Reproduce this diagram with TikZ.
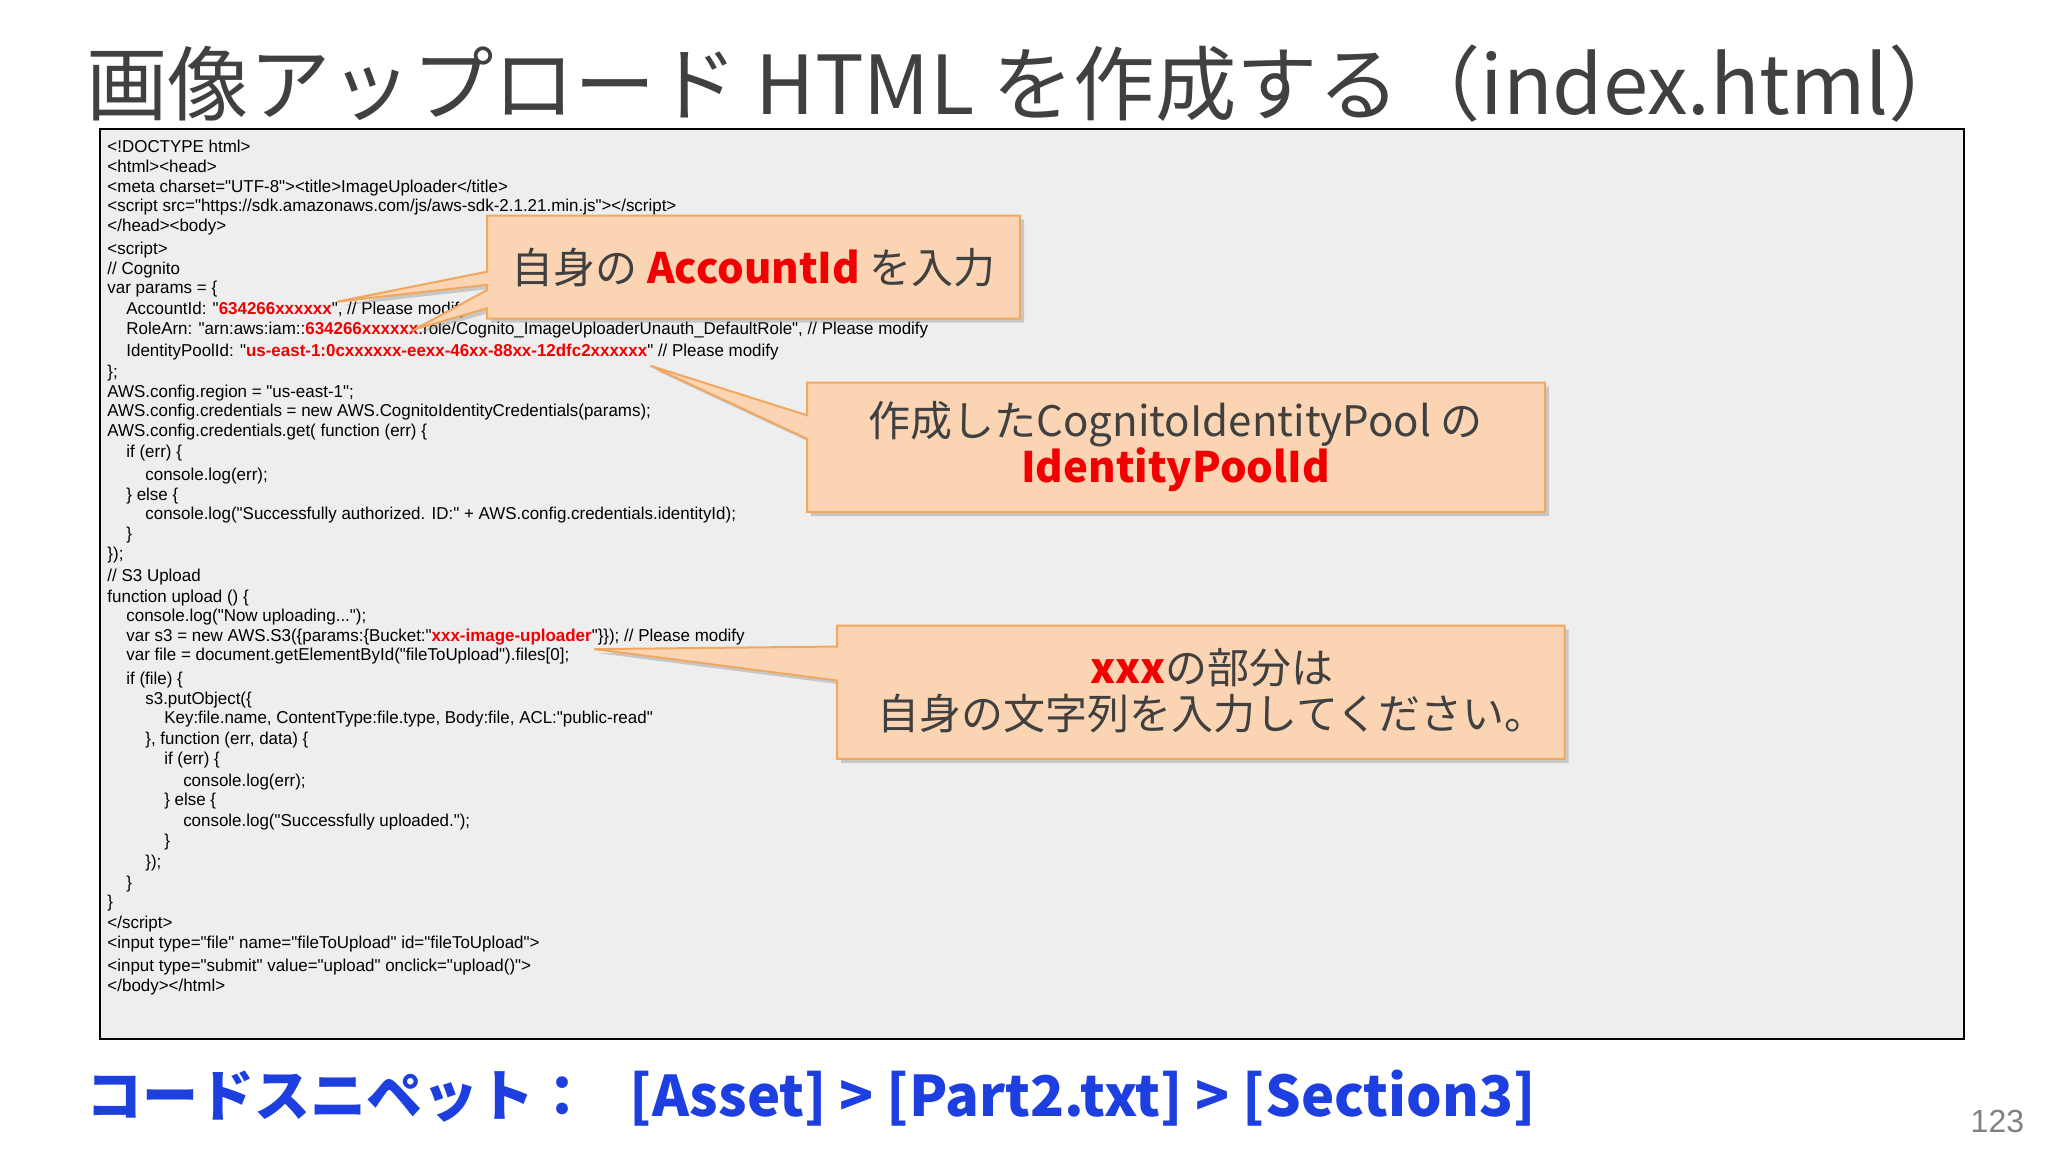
\documentclass[tikz,border=0pt]{standalone}
\usepackage{fontspec}
\setmainfont{Liberation Sans}
\newfontfamily\codefont{Liberation Sans}
\newfontfamily\jp{Noto Sans CJK JP}
\usetikzlibrary{shadows}
\definecolor{codebg}{HTML}{EEEEEF}
\definecolor{callfill}{HTML}{FBD5B3}
\definecolor{calldraw}{HTML}{F0A860}
\definecolor{titlegray}{HTML}{404040}
\definecolor{snipblue}{HTML}{1E3FE0}
\definecolor{codered}{HTML}{F00000}
\tikzset{
  codeline/.style={anchor=base west,inner sep=0pt,font=\codefont\fontsize{8.6}{10}\selectfont,xscale=0.985,transform shape},
  callout/.style={fill=callfill,draw=calldraw,line width=1pt,drop shadow={shadow xshift=2pt,shadow yshift=-2pt,opacity=0.35}},
  calltext/.style={font=\jp\fontsize{21}{27}\selectfont,text=titlegray,align=center},
}
\newcommand{\rd}[1]{\textcolor{codered}{\textbf{#1}}}
\begin{document}
\begin{tikzpicture}[x=0.6531pt,y=-0.6531pt]
\useasboundingbox (0,0) rectangle (1568,882);
\fill[white] (0,0) rectangle (1568,882);
\node[anchor=base west,inner sep=0pt,font=\jp\fontsize{40.7}{46}\selectfont,text=titlegray] (title) at (66,88) {画像アップロード HTML を作成する（index.html）};
\node[draw=black,fill=codebg,line width=0.8pt,minimum width=1427*0.6531pt,minimum height=697*0.6531pt,anchor=north west,inner sep=0pt] (code) at (76,98) {};
\def\ind{14.5}
\foreach \y/\l/\t [count=\i] in {
113/0/{<!DOCTYPE html>},
128/0/{<html><head>},
143/0/{<meta charset="UTF-8"><title>ImageUploader</title>},
158/0/{<script src="https://sdk.amazonaws.com/js/aws-sdk-2.1.21.min.js"></script>},
173/0/{</head><body>},
191/0/{<script>},
206/0/{// Cognito},
221/0/{var params = \{},
237/1/{AccountId: "\rd{634266xxxxxx}", // Please modify},
252/1/{RoleArn: "arn:aws:iam::\rd{634266xxxxxx}:role/Cognito\_ImageUploaderUnauth\_DefaultRole", // Please modify},
269/1/{IdentityPoolId: "\rd{us-east-1:0cxxxxxx-eexx-46xx-88xx-12dfc2xxxxxx}" // Please modify},
285/0/{\};},
300/0/{AWS.config.region = "us-east-1";},
315/0/{AWS.config.credentials = new AWS.CognitoIdentityCredentials(params);},
330/0/{AWS.config.credentials.get( function (err) \{},
346/1/{if (err) \{},
364/2/{console.log(err);},
379/1/{\} else \{},
394/2/{console.log("Successfully authorized. ID:" + AWS.config.credentials.identityId);},
409/1/{\}},
424/0/{\});},
441/0/{// S3 Upload},
457/0/{function upload () \{},
472/1/{console.log("Now uploading...");},
487/1/{var s3 = new AWS.S3(\{params:\{Bucket:"\rd{xxx-image-uploader}"\}\}); // Please modify},
502/1/{var file = document.getElementById("fileToUpload").files[0];},
520/1/{if (file) \{},
535/2/{s3.putObject(\{},
550/3/{Key:file.name, ContentType:file.type, Body:file, ACL:"public-read"},
566/2/{\}, function (err, data) \{},
581/3/{if (err) \{},
598/4/{console.log(err);},
613/3/{\} else \{},
629/4/{console.log("Successfully uploaded.");},
644/3/{\}},
660/2/{\});},
676/1/{\}},
691/0/{\}},
707/0/{</script>},
722/0/{<input type="file" name="fileToUpload" id="fileToUpload">},
740/0/{<input type="submit" value="upload" onclick="upload()">},
755/0/{</body></html>}}
{\node[codeline] (c\i) at ({82+\l*\ind},\y+4) {\t};}
% callout 1
\coordinate (t1a) at (258,231);
\coordinate (t1b) at (318,252);
\fill[callout] (373,165) -- (781,165) -- (781,244) -- (373,244) -- (373,236) -- (t1b) -- (373,222) -- (373,218) -- (t1a) -- (373,208) -- cycle;
\node[calltext] (k1) at (577,205) {自身の \textcolor{codered}{\textbf{AccountId}} を入力};
% callout 2
\coordinate (t2) at (498,280);
\fill[callout] (618,293) -- (1183,293) -- (1183,392) -- (618,392) -- (618,336) -- (t2) -- (618,318) -- cycle;
\node[calltext] (k2) at (900,342) {作成したCognitoIdentityPool の\\[-4pt]\textcolor{codered}{\textbf{IdentityPoolId}}};
% callout 3
\coordinate (t3) at (455,497);
\fill[callout] (641,479) -- (1198,479) -- (1198,581) -- (641,581) -- (641,521) -- (t3) -- (641,495) -- cycle;
\node[calltext] (k3) at (928,529) {\textcolor{codered}{\textbf{xxx}}の部分は\\[-4pt]自身の文字列を入力してください。};
% bottom
\node[anchor=base west,inner sep=0pt,font=\jp\bfseries\fontsize{28}{32}\selectfont,text=snipblue] (snip) at (66,855) {コードスニペット：\hspace{0.7em}[Asset] > [Part2.txt] > [Section3]};
\node[anchor=base east,inner sep=0pt,font=\fontsize{16}{18}\selectfont,text=gray] (pg) at (1550,867) {123};
\end{tikzpicture}
\end{document}
